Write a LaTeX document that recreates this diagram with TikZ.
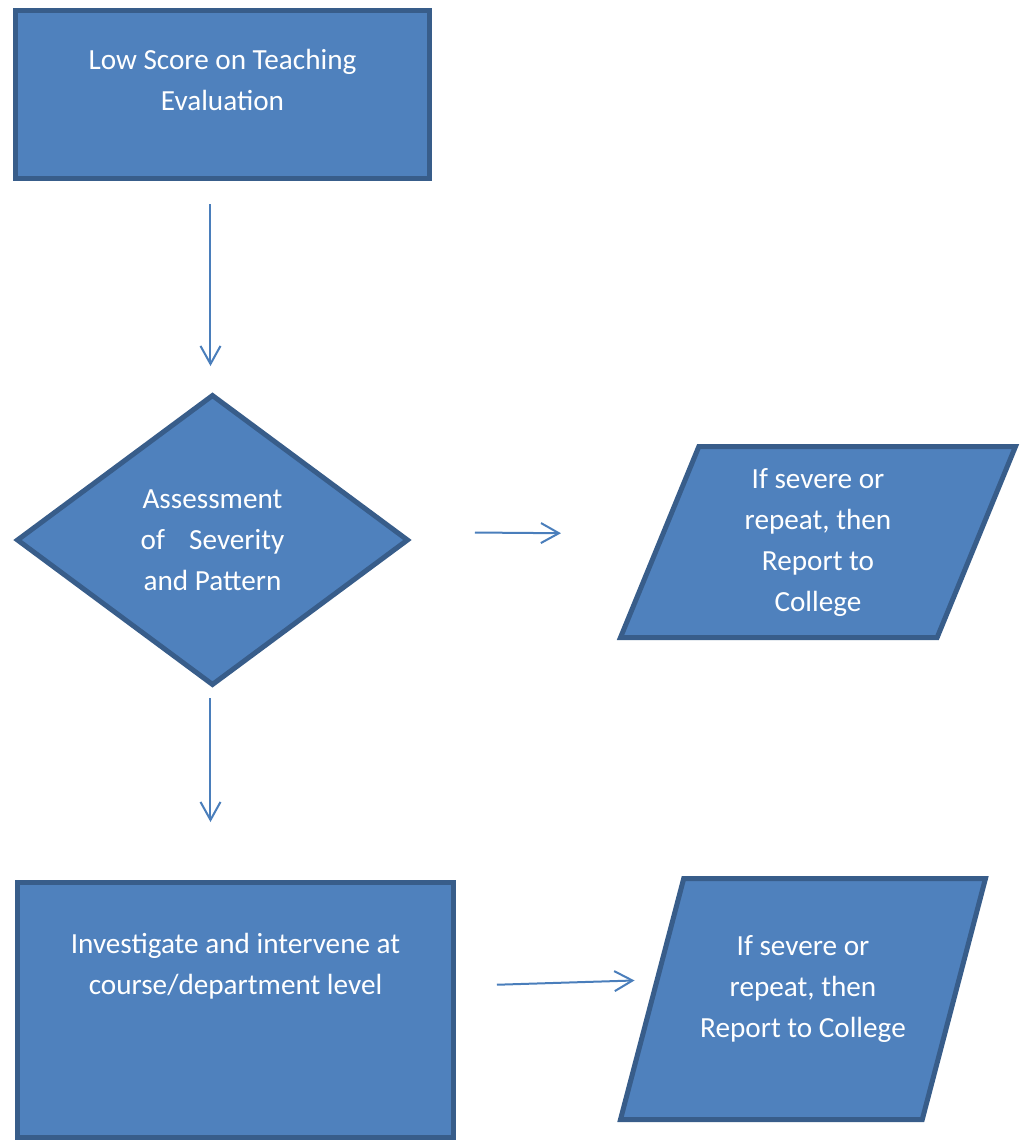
\documentclass[tikz,border=0pt]{standalone}
\usepackage{fontspec}
\setmainfont{Carlito}
\usetikzlibrary{arrows.meta,positioning,shapes.geometric}
\definecolor{flowFill}{RGB}{79,129,189}
\definecolor{flowLine}{RGB}{56,93,138}
\definecolor{flowArrow}{RGB}{74,126,187}

\begin{document}
\begin{tikzpicture}[
      blk/.style={draw=flowLine,line width=2.5pt,fill=flowFill,text=white,align=center,
                  font=\fontsize{14.6pt}{20.5pt}\selectfont},
      proc/.style={blk,rectangle},
      decide/.style={blk,diamond},
      report/.style={blk,trapezium,trapezium stretches body},
      arr/.style={draw=flowArrow,line width=1pt,-{Straight Barb[length=9pt,width=10pt]}}]
    \useasboundingbox (-111.25pt,47.25pt) rectangle (402.75pt,-523.75pt);
    \node[proc,minimum width=207pt,minimum height=84pt,text depth=15pt] (eval)
        {Low Score on Teaching\\ Evaluation};
    \node[decide,minimum width=196pt,minimum height=145.5pt,below=105.5pt of eval,xshift=-5pt] (assess)
        {Assessment\\ of\hspace{0.83em}Severity\\ and Pattern};
    \node[report,minimum width=197.5pt,minimum height=95.5pt,
          trapezium left angle=64.1,trapezium right angle=115.9] (rep1)
        at ([xshift=302.75pt,yshift=-1pt]assess.center) {If severe or\\ repeat, then\\ Report to\\ College};
    \node[proc,minimum width=218pt,minimum height=127.5pt,text depth=46pt,
          below=96pt of assess,xshift=11.5pt] (act)
        {Investigate and intervene at\\ course/department level};
    \node[report,minimum width=182.5pt,minimum height=120.5pt,text depth=13pt,
          trapezium left angle=65.9,trapezium right angle=114.1] (rep2)
        at ([xshift=283.75pt,yshift=5.5pt]act.center) {If severe or\\ repeat, then\\ Report to College};
    \draw[arr,shorten <=11.5pt,shorten >=13pt] ([xshift=-1pt]assess.north |- eval.south) -- ([xshift=-1pt]assess.north);
    \draw[arr,shorten <=32pt,shorten >=48pt] ([yshift=4pt]assess.east) -- ([yshift=4pt]rep1.west);
    \draw[arr,shorten <=5pt,shorten >=29pt] ([xshift=-1pt]assess.south) -- ([xshift=-1pt]assess.south |- act.north);
    \draw[arr,shorten <=20.5pt,shorten >=7.5pt] ([yshift=12pt]act.east) -- ([yshift=9.5pt]rep2.west);
  \end{tikzpicture}
\end{document}
